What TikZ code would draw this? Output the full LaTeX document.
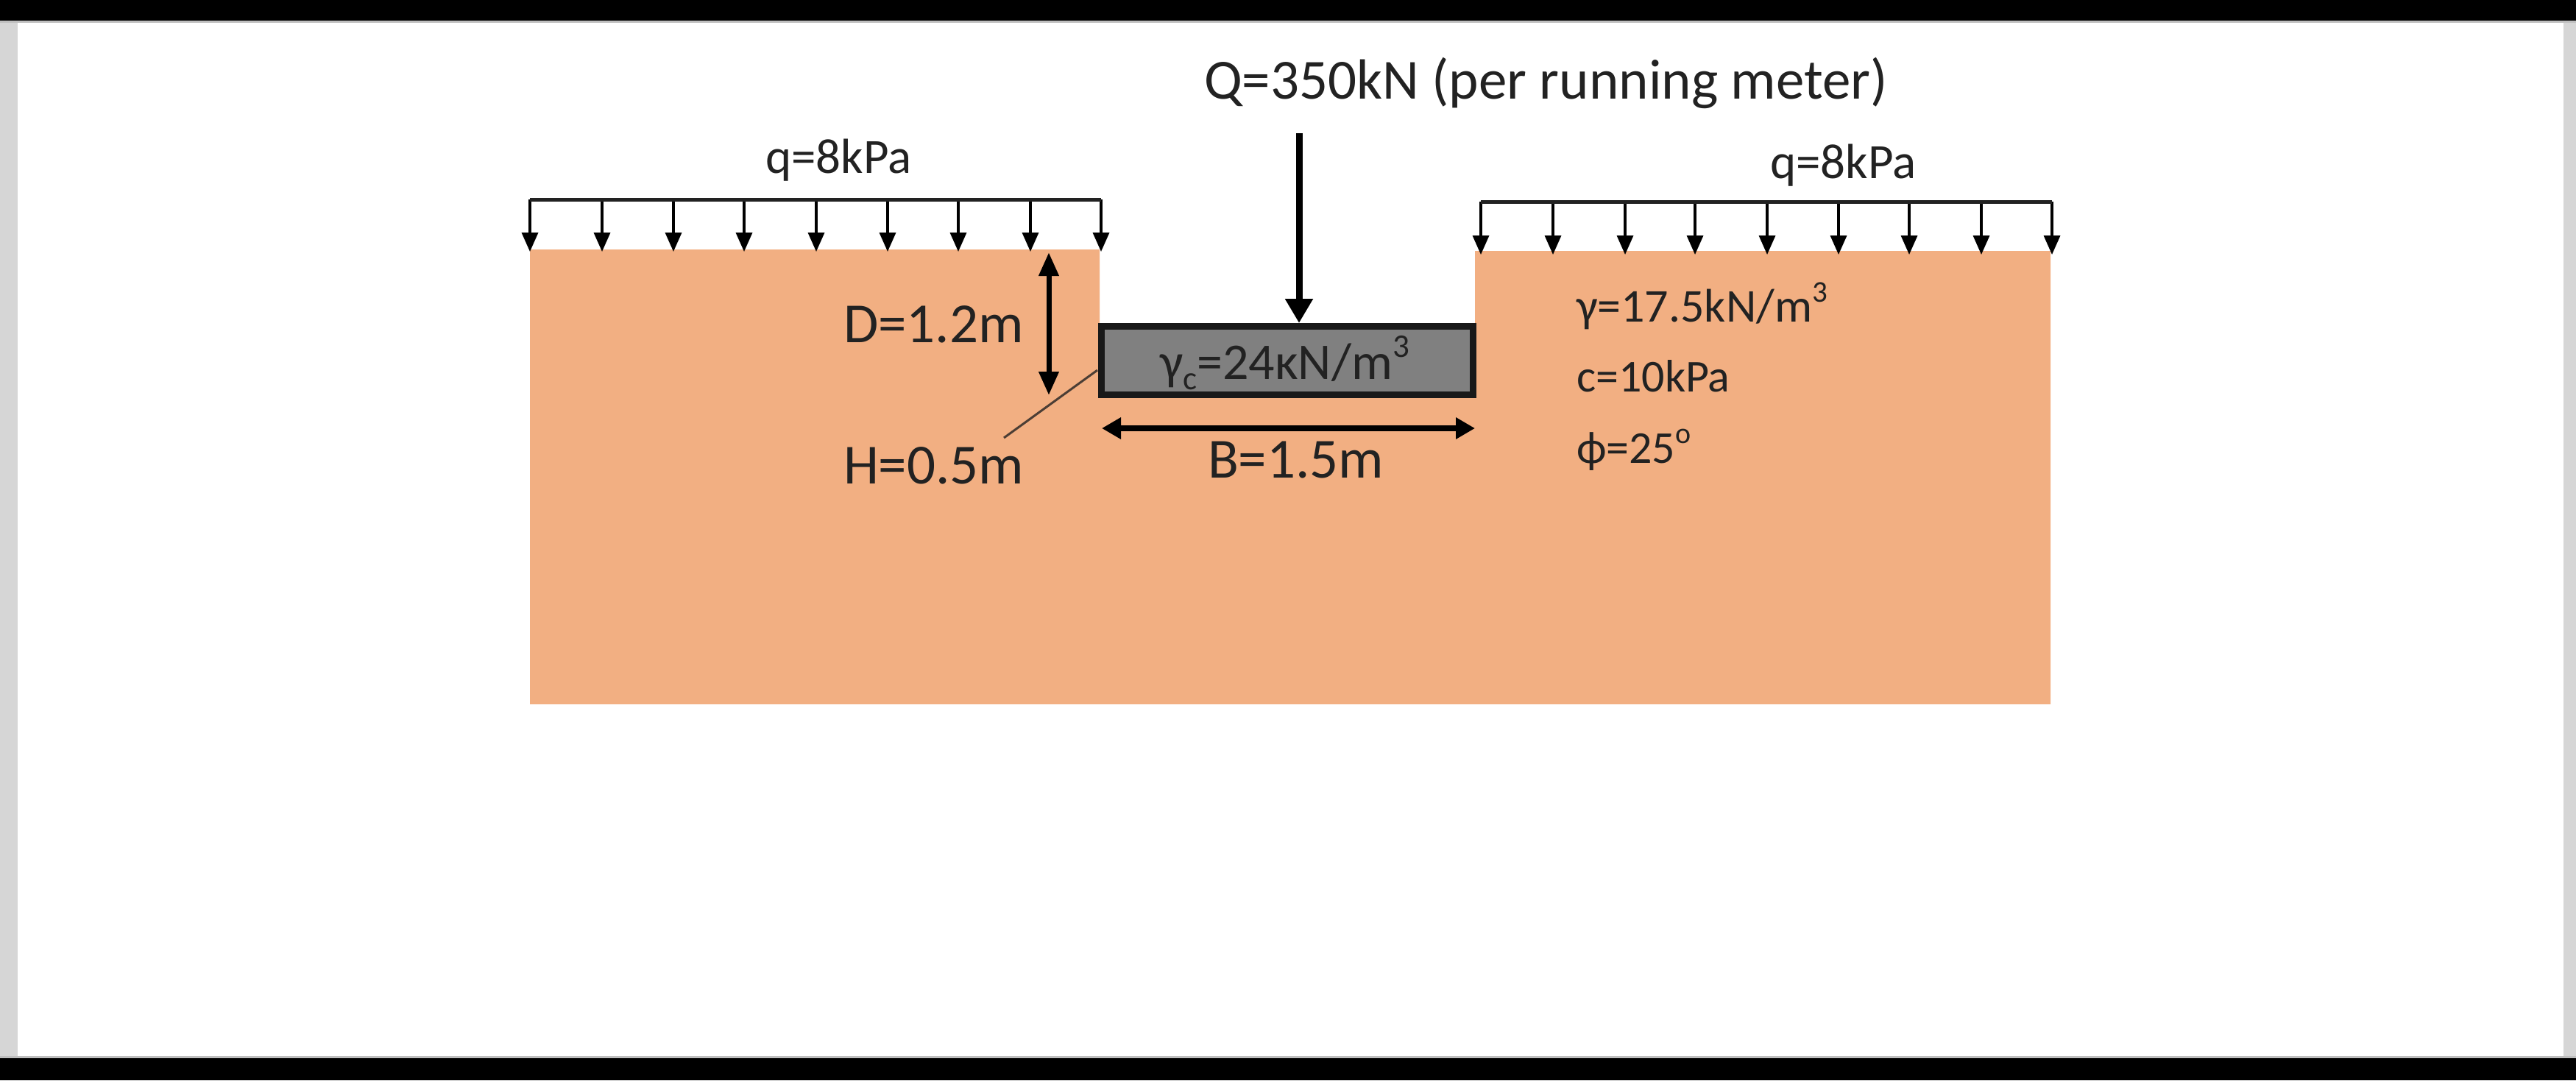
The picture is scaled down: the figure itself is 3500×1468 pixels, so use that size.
\documentclass[tikz,border=0pt]{standalone}
\usepackage{fontspec}
\setmainfont{Carlito}
\usetikzlibrary{arrows.meta,calc}
\definecolor{soil}{HTML}{F2AF82}
\definecolor{ink}{HTML}{222222}
\definecolor{conc}{HTML}{808080}
\definecolor{side}{HTML}{D6D6D6}
\newcommand{\fs}[1]{\fontsize{#1}{#1}\selectfont}
\tikzset{
  x=1pt,y=-1pt,
  lab/.style={anchor=base west,inner sep=0pt,outer sep=0pt,text=ink,font=\fs{#1}},
  lab/.default=62,
  loadbar/.style={draw=ink,line width=5pt},
  loadarrow/.style={draw=black,line width=3.5pt,-{Triangle[length=26pt,width=22pt]}},
  bigarrow/.style={draw=black,line width=9pt,-{Triangle[length=33pt,width=36pt]}},
  dimv/.style={draw=black,line width=7pt,{Triangle[length=32pt,width=26pt]}-{Triangle[length=32pt,width=26pt]}},
  dimh/.style={draw=black,line width=8pt,{Triangle[length=26pt,width=28pt]}-{Triangle[length=26pt,width=28pt]}},
  leader/.style={draw=ink!80!soil,line width=3pt},
  footing/.style={draw=black!90,line width=9pt,fill=conc,inner sep=0pt,minimum width=505pt,minimum height=93pt}
}
\begin{document}
\begin{tikzpicture}
\useasboundingbox (0,0) rectangle (3500,1468);
\fill[white] (0,0) rectangle (3500,1468);
\fill[side] (0,0) rectangle (24,1468);
\fill[side] (3483,0) rectangle (3500,1468);
\fill[black!25] (0,28) rectangle (3500,31);
\fill[black!25] (0,1435) rectangle (3500,1438);
\fill[black] (0,0) rectangle (3500,28);
\fill[black] (0,1438) rectangle (3500,1468);
% soil
\fill[soil] (720,339) -- (1494,339) -- (1494,541) -- (2004,541) -- (2004,341) -- (2786,341) -- (2786,957) -- (720,957) -- cycle;
% footing
\node[footing] (foot) at (1749,490) {};
\node[lab=70] (gammac) at (1576,515) {γ\raisebox{-0.2em}{\fs{45}c}=24κN/m\raisebox{0.42em}{\fs{45}3}};
% left surcharge
\foreach \i/\x in {1/720,2/818,3/915,4/1011,5/1109,6/1206,7/1302,8/1400,9/1496}{
  \coordinate (lt\i) at (\x,271);
  \coordinate (lb\i) at (\x,342);
  \draw[loadarrow] (lt\i) -- (lb\i);
}
\draw[loadbar] (lt1) -- (lt9);
% right surcharge
\foreach \i/\x in {1/2012,2/2110,3/2208,4/2303,5/2401,6/2498,7/2594,8/2692,9/2788}{
  \coordinate (rt\i) at (\x,274);
  \coordinate (rb\i) at (\x,346);
  \draw[loadarrow] (rt\i) -- (rb\i);
}
\draw[loadbar] (rt1) -- (rt9);
% Q arrow
\coordinate (qtop) at (1765,181);
\draw[bigarrow] (qtop) -- (qtop |- foot.north);
% D dimension
\coordinate (dtop) at (1425,343);
\coordinate (dbot) at (1425,537);
\draw[dimv] (dtop) -- (dbot);
% B dimension
\coordinate (bl) at (1497,582);
\coordinate (br) at (2004,582);
\draw[dimh] (bl) -- (br);
% H leader
\coordinate (hfoot) at (1491,503);
\coordinate (htail) at (1364,595);
\draw[leader] (hfoot) -- (htail);
% labels
\node[lab=77] (qlab) at (1636,134) {Q=350kN (per running meter)};
\node[lab=67] (ql) at (1040,235) {q=8kPa};
\node[lab=67] (qr) at (2405,242) {q=8kPa};
\node[lab=77] (dlab) at (1146,465) {D=1.2m};
\node[lab=77] (hlab) at (1146,657) {H=0.5m};
\node[lab=77] (blab) at (1641,649) {B=1.5m};
\node[lab=64] (gam) at (2142,437) {γ=17.5kN/m\raisebox{0.42em}{\fs{41}3}};
\node[lab=62] (coh) at (2142,532) {c=10kPa};
\node[lab=62] (phi) at (2142,629) {ϕ=25\raisebox{0.42em}{\fs{40}o}};
\end{tikzpicture}
\end{document}
